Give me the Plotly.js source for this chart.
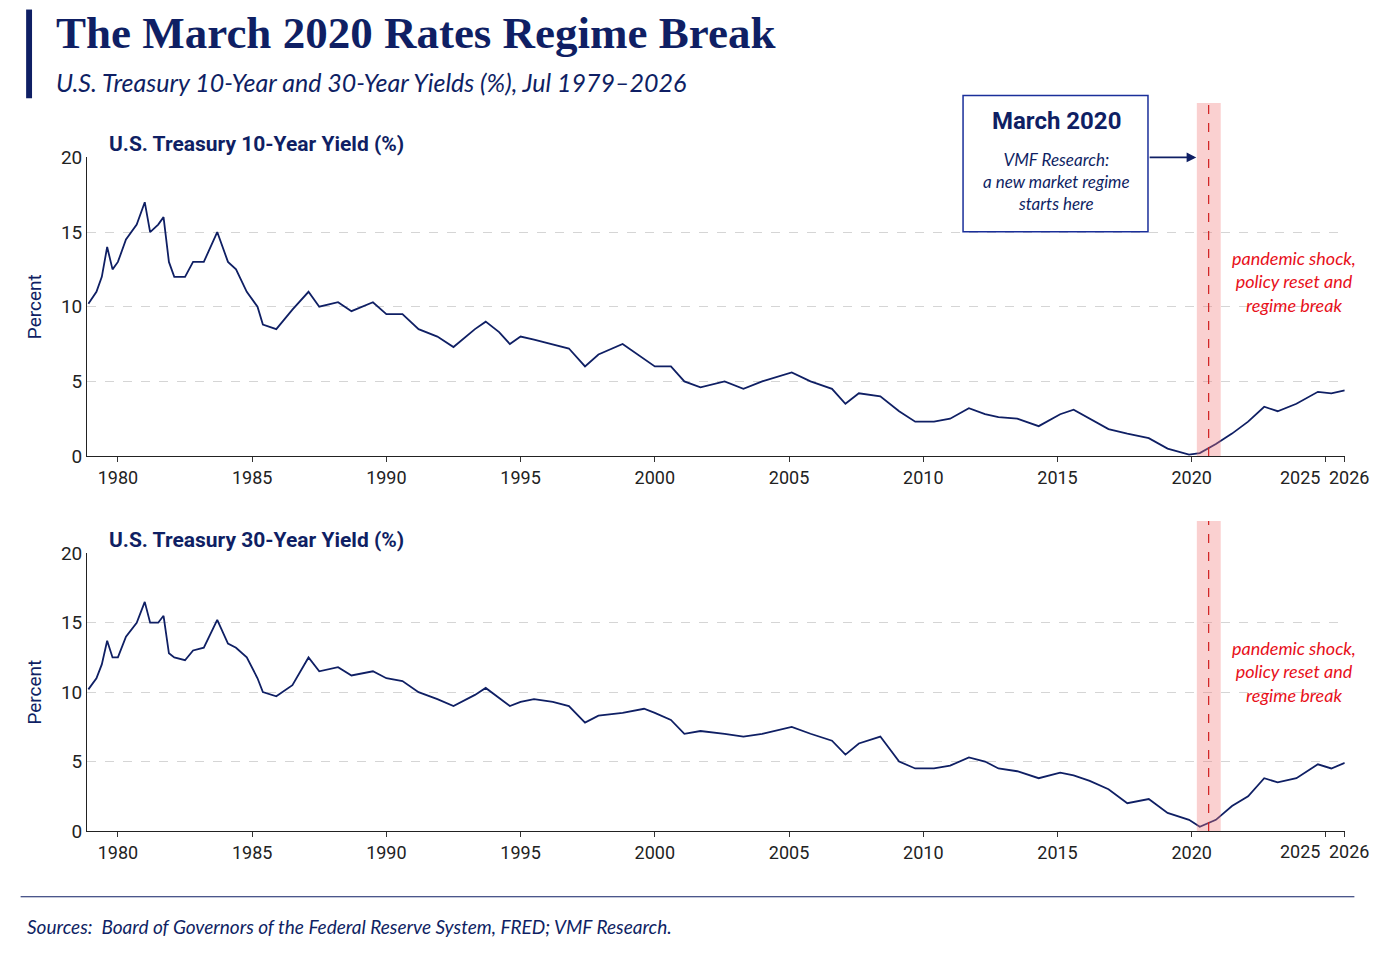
<!DOCTYPE html>
<html>
<head>
<meta charset="utf-8">
<script src="https://cdn.plot.ly/plotly-3.0.1.min.js"></script>
<style>body{margin:0;background:#fff}#chart{width:1375px;height:954px}</style>
</head>
<body>
<div id="chart"></div>
<script>
// dates in decimal years
var dates = [1978.9, 1979.2, 1979.4, 1979.6, 1979.8, 1980.0, 1980.3, 1980.7, 1981.0, 1981.2,
  1981.5, 1981.7, 1981.9, 1982.1, 1982.5, 1982.8, 1983.2, 1983.7, 1984.1, 1984.4,
  1984.8, 1985.2, 1985.4, 1985.9, 1986.5, 1987.1, 1987.5, 1988.2, 1988.7, 1989.5,
  1990.0, 1990.6, 1991.2, 1991.9, 1992.5, 1993.3, 1993.7, 1994.2, 1994.6, 1995.0,
  1995.5, 1996.2, 1996.8, 1997.4, 1997.9, 1998.8, 1999.6, 2000.0, 2000.6, 2001.1,
  2001.7, 2002.6, 2003.3, 2004.0, 2005.1, 2005.8, 2006.6, 2007.1, 2007.6, 2008.4,
  2009.1, 2009.7, 2010.4, 2011.0, 2011.7, 2012.3, 2012.8, 2013.5, 2014.3, 2015.1,
  2015.6, 2016.2, 2016.9, 2017.6, 2018.4, 2019.1, 2019.9, 2020.3, 2020.9, 2021.5,
  2022.1, 2022.7, 2023.2, 2023.9, 2024.7, 2025.2, 2025.7];

var y10 = [10.2, 11.0, 12.0, 14.0, 12.5, 13.0, 14.5, 15.5, 17.0, 15.0,
  15.5, 16.0, 13.0, 12.0, 12.0, 13.0, 13.0, 15.0, 13.0, 12.5,
  11.0, 10.0, 8.8, 8.5, 9.8, 11.0, 10.0, 10.3, 9.7, 10.3,
  9.5, 9.5, 8.5, 8.0, 7.3, 8.5, 9.0, 8.3, 7.5, 8.0,
  7.8, 7.5, 7.2, 6.0, 6.8, 7.5, 6.5, 6.0, 6.0, 5.0,
  4.6, 5.0, 4.5, 5.0, 5.6, 5.0, 4.5, 3.5, 4.2, 4.0,
  3.0, 2.3, 2.3, 2.5, 3.2, 2.8, 2.6, 2.5, 2.0, 2.8,
  3.1, 2.5, 1.8, 1.5, 1.2, 0.5, 0.1, 0.2, 0.8, 1.5,
  2.3, 3.3, 3.0, 3.5, 4.3, 4.2, 4.4];

var y30 = [10.2, 11.0, 12.0, 13.7, 12.5, 12.5, 14.0, 15.0, 16.5, 15.0,
  15.0, 15.5, 12.8, 12.5, 12.3, 13.0, 13.2, 15.2, 13.5, 13.2,
  12.5, 11.0, 10.0, 9.7, 10.5, 12.5, 11.5, 11.8, 11.2, 11.5,
  11.0, 10.8, 10.0, 9.5, 9.0, 9.8, 10.3, 9.6, 9.0, 9.3,
  9.5, 9.3, 9.0, 7.8, 8.3, 8.5, 8.8, 8.5, 8.0, 7.0,
  7.2, 7.0, 6.8, 7.0, 7.5, 7.0, 6.5, 5.5, 6.3, 6.8,
  5.0, 4.5, 4.5, 4.7, 5.3, 5.0, 4.5, 4.3, 3.8, 4.2,
  4.0, 3.6, 3.0, 2.0, 2.3, 1.3, 0.8, 0.3, 0.8, 1.8,
  2.5, 3.8, 3.5, 3.8, 4.8, 4.5, 4.9];

var tickYears = [1980, 1985, 1990, 1995, 2000, 2005, 2010, 2015, 2020, 2025, 2025.7];
var tickLabels = ['1980', '1985', '1990', '1995', '2000', '2005', '2010', '2015', '2020', '', ''];

var navy = '#0f1f64';
var font = 'Roboto, sans-serif';

var traces = [
  {x: dates, y: y10, type: 'scatter', mode: 'lines', line: {color: navy, width: 1.8}, xaxis: 'x', yaxis: 'y'},
  {x: dates, y: y30, type: 'scatter', mode: 'lines', line: {color: navy, width: 1.8}, xaxis: 'x2', yaxis: 'y2'}
];

function xax(anchor) {
  return {domain: [0.0633, 0.978], range: [1978.85, 2025.7], anchor: anchor,
    tickvals: tickYears, ticktext: tickLabels, tickangle: 0, ticks: 'outside', ticklen: 5, tickcolor: '#333',
    showline: true, linecolor: '#222', showgrid: false, zeroline: false,
    tickfont: {family: font, size: 18, color: '#222'}};
}
function yax(domain, anchor) {
  return {domain: domain, range: [0, 20], anchor: anchor, tickvals: [0, 5, 10, 15, 20],
    showline: true, linecolor: '#222', ticks: '', zeroline: false,
    gridcolor: '#d5d5d5', griddash: 'dash', gridwidth: 1,
    tickfont: {family: font, size: 19, color: '#222'},
    title: {text: 'Percent', font: {family: font, size: 19, color: navy}, standoff: 14}};
}

var shapes = [
  {type: 'rect', xref: 'x', yref: 'paper', x0: 2020.19, x1: 2021.08, y0: 0.522, y1: 0.892, fillcolor: 'rgba(240,120,120,0.35)', line: {width: 0}},
  {type: 'rect', xref: 'x2', yref: 'paper', x0: 2020.19, x1: 2021.08, y0: 0.129, y1: 0.454, fillcolor: 'rgba(240,120,120,0.35)', line: {width: 0}},
  {type: 'line', xref: 'x', yref: 'paper', x0: 2020.63, x1: 2020.63, y0: 0.522, y1: 0.892, line: {color: '#d02020', width: 1.2, dash: 'dash'}},
  {type: 'line', xref: 'x2', yref: 'paper', x0: 2020.63, x1: 2020.63, y0: 0.129, y1: 0.454, line: {color: '#d02020', width: 1.2, dash: 'dash'}},
  {type: 'rect', xref: 'paper', yref: 'paper', x0: 0.019, x1: 0.0233, y0: 0.897, y1: 0.99, fillcolor: navy, line: {width: 0}},
  {type: 'line', xref: 'paper', yref: 'paper', x0: 0.015, x1: 0.985, y0: 0.06, y1: 0.06, line: {color: navy, width: 1.2}},
  {type: 'rect', xref: 'paper', yref: 'paper', x0: 0.7004, x1: 0.8349, y0: 0.757, y1: 0.9, fillcolor: '#fff', line: {color: '#1a2f9a', width: 1.5}}
];

var red = '#e8101a';
var annotations = [
  {xref: 'paper', yref: 'paper', x: 0.039, y: 0.965, xanchor: 'left', yanchor: 'middle', showarrow: false,
    text: '<b>The March 2020 Rates Regime Break</b>', font: {family: 'Liberation Serif, DejaVu Serif, serif', size: 45, color: navy}},
  {xref: 'paper', yref: 'paper', x: 0.039, y: 0.914, xanchor: 'left', yanchor: 'middle', showarrow: false,
    text: '<i>U.S. Treasury 10-Year and 30-Year Yields (%), Jul 1979–2026</i>', font: {family: 'Lato, sans-serif', size: 25, color: navy}},
  {xref: 'paper', yref: 'paper', x: 0.078, y: 0.849, xanchor: 'left', yanchor: 'middle', showarrow: false,
    text: '<b>U.S. Treasury 10-Year Yield (%)</b>', font: {family: font, size: 21, color: navy}},
  {xref: 'paper', yref: 'paper', x: 0.078, y: 0.434, xanchor: 'left', yanchor: 'middle', showarrow: false,
    text: '<b>U.S. Treasury 30-Year Yield (%)</b>', font: {family: font, size: 21, color: navy}},
  {xref: 'paper', yref: 'paper', x: 0.768, y: 0.873, xanchor: 'center', yanchor: 'middle', showarrow: false,
    text: '<b>March 2020</b>', font: {family: font, size: 24, color: navy}},
  {xref: 'paper', yref: 'paper', x: 0.768, y: 0.81, xanchor: 'center', yanchor: 'middle', showarrow: false,
    text: '<i>VMF Research:<br>a new market regime<br>starts here</i>', font: {family: 'Lato, sans-serif', size: 17, color: navy}},
  {xref: 'paper', yref: 'paper', x: 0.87, y: 0.835, ax: 0.835, ay: 0.835, axref: 'paper', ayref: 'paper',
    showarrow: true, arrowhead: 2, arrowsize: 1.2, arrowwidth: 1.6, arrowcolor: navy, text: ''},
  {xref: 'paper', yref: 'paper', x: 0.941, y: 0.705, xanchor: 'center', yanchor: 'middle', showarrow: false,
    text: '<i>pandemic shock,<br>policy reset and<br>regime break</i>', font: {family: 'Lato, sans-serif', size: 18, color: red}},
  {xref: 'paper', yref: 'paper', x: 0.941, y: 0.296, xanchor: 'center', yanchor: 'middle', showarrow: false,
    text: '<i>pandemic shock,<br>policy reset and<br>regime break</i>', font: {family: 'Lato, sans-serif', size: 18, color: red}},
  {xref: 'paper', yref: 'paper', x: 0.018, y: 0.029, xanchor: 'left', yanchor: 'middle', showarrow: false,
    text: '<i>Sources:  Board of Governors of the Federal Reserve System, FRED; VMF Research.</i>', font: {family: 'Lato, sans-serif', size: 19, color: navy}}
];

// crowded last two year labels, placed by hand beside their ticks
[['x', 0.5], ['x2', 0.107]].forEach(function (p) {
  annotations.push({xref: p[0], yref: 'paper', x: 2025, y: p[1], xshift: -26, xanchor: 'center', yanchor: 'middle',
    showarrow: false, text: '2025', font: {family: font, size: 18, color: '#222'}});
  annotations.push({xref: p[0], yref: 'paper', x: 2025.7, y: p[1], xshift: 4, xanchor: 'center', yanchor: 'middle',
    showarrow: false, text: '2026', font: {family: font, size: 18, color: '#222'}});
});

var layout = {
  width: 1375, height: 954,
  margin: {l: 0, r: 0, t: 0, b: 0},
  paper_bgcolor: '#fff', plot_bgcolor: '#fff',
  showlegend: false,
  xaxis: xax('y'), yaxis: yax([0.522, 0.835], 'x'),
  xaxis2: xax('y2'), yaxis2: yax([0.129, 0.420], 'x2'),
  shapes: shapes,
  annotations: annotations
};

Plotly.newPlot('chart', traces, layout, {displayModeBar: false, staticPlot: true});
</script>
</body>
</html>
